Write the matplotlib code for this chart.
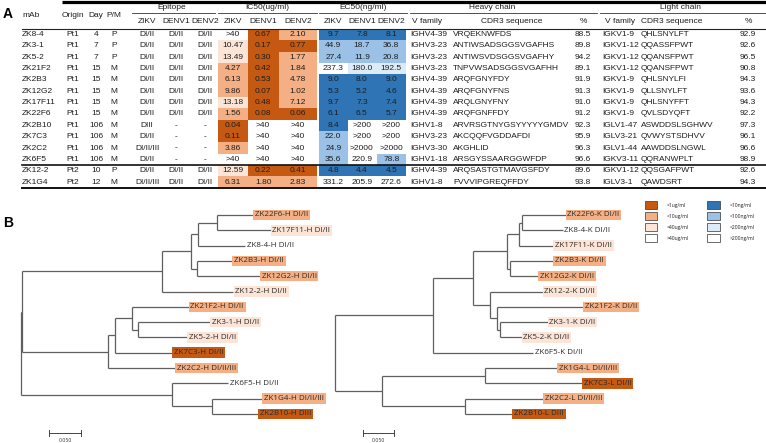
import matplotlib
matplotlib.use('Agg')
import matplotlib.pyplot as plt
from matplotlib.patches import Rectangle

# ---------------- data ----------------
mabs = ['ZK8-4', 'ZK3-1', 'ZK5-2', 'ZK21F2', 'ZK2B3', 'ZK12G2', 'ZK17F11', 'ZK22F6',
        'ZK2B10', 'ZK7C3', 'ZK2C2', 'ZK6F5', 'ZK12-2', 'ZK1G4']
origin = ['Pt1', 'Pt1', 'Pt1', 'Pt1', 'Pt1', 'Pt1', 'Pt1', 'Pt1', 'Pt1', 'Pt1', 'Pt1', 'Pt1', 'Pt2', 'Pt2']
day = [4, 7, 7, 15, 15, 15, 15, 15, 106, 106, 106, 106, 10, 12]
pm = ['P', 'P', 'P', 'M', 'M', 'M', 'M', 'M', 'M', 'M', 'M', 'M', 'P', 'M']
epi_zikv = ['DI/II'] * 8 + ['DIII', 'DI/II', 'DI/II/III', 'DI/II', 'DI/II', 'DI/II/III']
epi_denv1 = ['DI/II'] * 8 + ['-', '-', '-', '-', 'DI/II', 'DI/II']
epi_denv2 = ['DI/II'] * 8 + ['-', '-', '-', '-', 'DI/II', 'DI/II']
ic50_zikv = ['>40', '10.47', '13.49', '4.27', '6.13', '9.86', '13.18', '1.56', '0.04', '0.11', '3.86', '>40', '12.59', '6.31']
ic50_denv1 = ['0.67', '0.17', '0.30', '0.42', '0.53', '0.07', '0.48', '0.08', '>40', '>40', '>40', '>40', '0.22', '1.80']
ic50_denv2 = ['2.10', '0.77', '1.77', '1.84', '4.78', '1.02', '7.12', '0.06', '>40', '>40', '>40', '>40', '0.41', '2.83']
ec50_zikv = ['9.7', '44.9', '27.4', '237.3', '9.0', '5.3', '9.7', '6.1', '8.4', '22.0', '24.9', '35.6', '4.8', '331.2']
ec50_denv1 = ['7.8', '18.7', '11.9', '180.0', '8.0', '5.2', '7.3', '6.5', '>200', '>200', '>2000', '220.9', '4.4', '205.9']
ec50_denv2 = ['8.1', '36.8', '20.8', '192.5', '9.0', '4.6', '7.4', '5.7', '>200', '>200', '>2000', '78.8', '4.5', '272.6']
hv_family = ['IGHV4-39', 'IGHV3-23', 'IGHV3-23', 'IGHV3-23', 'IGHV4-39', 'IGHV4-39', 'IGHV4-39', 'IGHV4-39',
             'IGHV1-8', 'IGHV3-23', 'IGHV3-30', 'IGHV1-18', 'IGHV4-39', 'IGHV1-8']
hv_cdr3 = ['VRQEKNWFDS', 'ANTIWSADSGGSVGAFHS', 'ANTIWSVDSGGSVGAFHY', 'TNPVWSADSGGSVGAFHH', 'ARQFGNYFDY',
           'ARQFGNYFNS', 'ARQLGNYFNY', 'ARQFGNFFDY', 'ARVRSGTNYGSYYYYYGMDV', 'AKCQQFVGDDAFDI', 'AKGHLID',
           'ARSGYSSAARGGWFDP', 'ARQSASTGTMAVGSFDY', 'FVVVIPGREQFFDY']
hv_pct = [88.5, 89.8, 94.2, 89.1, 91.9, 91.3, 91.0, 91.2, 92.3, 95.9, 96.3, 96.6, 89.6, 93.8]
lv_family = ['IGKV1-9', 'IGKV1-12', 'IGKV1-12', 'IGKV1-12', 'IGKV1-9', 'IGKV1-9', 'IGKV1-9', 'IGKV1-9',
             'IGLV1-47', 'IGLV3-21', 'IGLV1-44', 'IGKV3-11', 'IGKV1-12', 'IGLV3-1']
lv_cdr3 = ['QHLSNYLFT', 'QQASSFPWT', 'QQANSFPWT', 'QQANSFPWT', 'QHLSNYLFI', 'QLLSNYLFT', 'QHLSNYFFT',
           'QVLSDYQFT', 'ASWDDSLSGHWV', 'QVWYSTSDHVV', 'AAWDDSLNGWL', 'QQRANWPLT', 'QQSGAFPWT', 'QAWDSRT']
lv_pct = [92.9, 92.6, 96.5, 90.8, 94.3, 93.6, 94.3, 92.2, 97.3, 96.1, 96.6, 98.9, 92.6, 94.3]

# phylogenetic trees (branch lengths in substitutions/site)
heavy_tree = ("((((((ZK22F6-H DI/II:0.056,ZK17F11-H DI/II:0.083):0.030,ZK8-4-H DI/II:0.073):0.011,"
              "(ZK2B3-H DI/II:0.055,ZK12G2-H DI/II:0.098):0.009):0.045,ZK12-2-H DI/II:0.111):0.219,"
              "(((ZK21F2-H DI/II:0.088,(ZK3-1-H DI/II:0.113,ZK5-2-H DI/II:0.077):0.009):0.027,"
              "ZK7C3-H DI/II:0.089):0.011,ZK2C2-H DI/II/III:0.105):0.134):0.002,"
              "(ZK6F5-H DI/II:0.088,(ZK1G4-H DI/II/III:0.078,ZK2B10-H DIII:0.072):0.063):0.236);")
light_tree = ("((((((ZK22F6-K DI/II:0.071,ZK8-4-K DI/II:0.066):0.005,ZK17F11-K DI/II:0.056):0.018,"
              "(ZK2B3-K DI/II:0.069,ZK12G2-K DI/II:0.045):0.005):0.055,(ZK12-2-K DI/II:0.085,"
              "(ZK21F2-K DI/II:0.139,(ZK3-1-K DI/II:0.077,ZK5-2-K DI/II:0.035):0.005):0.011):0.027):0.065,"
              "ZK6F5-K DI/II:0.161):0.158,((ZK1G4-L DI/II/III:0.116,ZK7C3-L DI/II:0.156):0.166,"
              "(ZK2C2-L DI/II/III:0.126,ZK2B10-L DIII:0.076):0.134):0.076);")
scale_len = 0.050

ic50_legend = ['<1ug/ml', '<10ug/ml', '<40ug/ml', '>40ug/ml']
ec50_legend = ['<10ng/ml', '<100ng/ml', '<200ng/ml', '>200ng/ml']

# ---------------- style ----------------
ORANGE = ['#C65911', '#F4B084', '#FCE4D6', '#FFFFFF']
BLUE = ['#2F75B5', '#9BC2E6', '#DDEBF7', '#FFFFFF']
TXT = '#1e1e1e'
TFONT = ['Liberation Sans', 'DejaVu Sans']
LFONT = ['Open Sans', 'DejaVu Sans']
FS = 6.0


def num(s):
    return float(s.lstrip('>')) * (10 if s.startswith('>') else 1)


def ic50_color(s):
    v = num(s)
    return ORANGE[0] if v < 1 else ORANGE[1] if v < 10 else ORANGE[2] if v < 40 else ORANGE[3]


def ec50_color(s):
    v = num(s)
    return BLUE[0] if v < 10 else BLUE[1] if v < 100 else BLUE[2] if v < 200 else BLUE[3]


W, H = 766, 443
fig = plt.figure(figsize=(W / 100, H / 100), dpi=100)
ax = fig.add_axes([0, 0, 1, 1])
ax.set_xlim(0, W)
ax.set_ylim(H, 0)
ax.axis('off')

# ---------------- table (panel A) ----------------
ROW0, DY = 34.5, 11.35
rows_y = [ROW0 + DY * i for i in range(len(mabs))]


def t(x, y, s, ha='center', **kw):
    ax.text(x, y, s, ha=ha, va='center', fontsize=kw.pop('fs', FS), family=TFONT, color=TXT, **kw)


ax.text(3, 14, 'A', fontsize=10, fontweight='bold', family=TFONT, va='center', ha='left')
ax.text(3, 223, 'B', fontsize=10, fontweight='bold', family=TFONT, va='center', ha='left')

# header lines
ax.plot([62, 766], [1.5, 1.5], color='black', lw=2.3, solid_capstyle='butt')
hdr_line = ROW0 - DY / 2
ax.plot([22, 766], [hdr_line, hdr_line], color='#222', lw=0.8)
sep = ROW0 + DY * 11.5
ax.plot([22, 766], [sep, sep], color='#111', lw=1.2)
bot = ROW0 + DY * 13.5
ax.plot([22, 766], [bot, bot], color='#111', lw=1.4)

groups = [('Epitope', 172, 132, 215), ('IC50(ug/ml)', 267, 218, 317), ('EC50(ng/ml)', 363, 319, 407),
          ('Heavy chain', 492, 410, 597), ('Light chain', 680, 600, 766)]
for name, cx, x0, x1 in groups:
    t(cx, 7.5, name)
    ax.plot([x0, x1], [13, 13], color='#333', lw=0.6)

HV_X, HC_X, HP_X = 410, 453, 583
LV_X, LC_X, LP_X = 602, 641, 748

t(22, 15, 'mAb', ha='left')
t(73, 15, 'Origin')
t(96, 15, 'Day')
t(114, 15, 'P/M')
sub_y = 21
for cx, lab in [(147, 'ZIKV'), (176, 'DENV1'), (205, 'DENV2'),
                (233, 'ZIKV'), (263, 'DENV1'), (298, 'DENV2'),
                (333, 'ZIKV'), (362, 'DENV1'), (391, 'DENV2')]:
    t(cx, sub_y, lab)
t(HV_X + 2, sub_y, 'V family', ha='left')
t(512, sub_y, 'CDR3 sequence')
t(HP_X, sub_y, '%')
t(LV_X + 3, sub_y, 'V family', ha='left')
t(672, sub_y, 'CDR3 sequence')
t(LP_X, sub_y, '%')

ic_cols = [(218, 247.5, ic50_zikv), (247.5, 279, ic50_denv1), (279, 317, ic50_denv2)]
ec_cols = [(319, 347.5, ec50_zikv), (347.5, 376.5, ec50_denv1), (376.5, 406, ec50_denv2)]

for i, y in enumerate(rows_y):
    t(22, y, mabs[i], ha='left')
    t(73, y, origin[i])
    t(96, y, str(day[i]))
    t(114, y, pm[i])
    t(147, y, epi_zikv[i])
    t(176, y, epi_denv1[i])
    t(205, y, epi_denv2[i])
    for x0, x1, vals in ic_cols:
        ax.add_patch(Rectangle((x0, y - DY / 2), x1 - x0, DY, facecolor=ic50_color(vals[i]), edgecolor='none', zorder=0))
        t((x0 + x1) / 2, y, vals[i])
    for x0, x1, vals in ec_cols:
        ax.add_patch(Rectangle((x0, y - DY / 2), x1 - x0, DY, facecolor=ec50_color(vals[i]), edgecolor='none', zorder=0))
        t((x0 + x1) / 2, y, vals[i])
    t(HV_X, y, hv_family[i], ha='left')
    t(HC_X, y, hv_cdr3[i], ha='left')
    t(HP_X, y, '%.1f' % hv_pct[i])
    t(LV_X, y, lv_family[i], ha='left')
    t(LC_X, y, lv_cdr3[i], ha='left')
    t(LP_X, y, '%.1f' % lv_pct[i])

# legend
leg_y = [205, 216, 227, 238]
for j in range(4):
    ax.add_patch(Rectangle((645, leg_y[j] - 3.8), 12, 7.6, facecolor=ORANGE[j], edgecolor='#333', lw=0.5))
    ax.text(667, leg_y[j], ic50_legend[j], fontsize=3.6, family=LFONT, color=TXT, va='center', ha='left')
    ax.add_patch(Rectangle((707, leg_y[j] - 3.8), 13, 7.6, facecolor=BLUE[j], edgecolor='#333', lw=0.5))
    ax.text(730, leg_y[j], ec50_legend[j], fontsize=3.6, family=LFONT, color=TXT, va='center', ha='left')


# ---------------- trees (panel B) ----------------
def parse_newick(s):
    s = s.strip().rstrip(';')
    pos = 0

    def node():
        nonlocal pos
        children = []
        if s[pos] == '(':
            pos += 1
            while True:
                children.append(node())
                if s[pos] == ',':
                    pos += 1
                    continue
                if s[pos] == ')':
                    pos += 1
                    break
        st = pos
        while pos < len(s) and s[pos] not in ',():':
            pos += 1
        name = s[st:pos]
        length = 0.0
        if pos < len(s) and s[pos] == ':':
            pos += 1
            st = pos
            while pos < len(s) and s[pos] not in ',()':
                pos += 1
            length = float(s[st:pos])
        return {'name': name, 'len': length, 'children': children}

    return node()


ic50_of = dict(zip(mabs, ic50_zikv))
LEAF0, LEAFDY = 215, 15.3
TOP = 195


def draw_tree(newick, root_px, px_per_unit, right_px, bar_px):
    tree = parse_newick(newick)
    leaves = []

    def rec(n, x):
        n['x'] = x + n['len']
        if n['children']:
            ys = [rec(c, n['x']) for c in n['children']]
            n['y'] = (ys[0] + ys[-1]) / 2
        else:
            n['y'] = len(leaves)
            leaves.append(n)
        return n['y']

    rec(tree, 0.0)
    wpx = right_px - root_px
    tax = fig.add_axes([root_px / W, 0, wpx / W, (H - TOP) / H])
    tax.set_xlim(0, wpx / px_per_unit)
    tax.set_ylim((H - LEAF0) / LEAFDY, (TOP - LEAF0) / LEAFDY)
    tax.axis('off')
    lc = '#5f5f5f'

    def drw(n):
        if n['children']:
            cs = n['children']
            tax.plot([n['x'], n['x']], [cs[0]['y'], cs[-1]['y']], color=lc, lw=0.9, clip_on=False,
                     solid_capstyle='butt')
            for c in cs:
                tax.plot([n['x'], c['x']], [c['y'], c['y']], color=lc, lw=0.9, clip_on=False,
                         solid_capstyle='butt')
                drw(c)

    drw(tree)
    pad = 1.8 / px_per_unit
    for lf in leaves:
        mab = lf['name'].split(' ')[0].rsplit('-', 1)[0]
        col = ic50_color(ic50_of[mab])
        kw = {}
        if col != '#FFFFFF':
            kw['bbox'] = dict(boxstyle='square,pad=0.22', facecolor=col, edgecolor='none')
        tax.text(lf['x'] + pad, lf['y'], lf['name'], fontsize=5.8, family=LFONT, color='#2a2a2a',
                 va='center', ha='left', clip_on=False, **kw)
    # scale bar
    b0 = (bar_px - root_px) / px_per_unit
    yb = (433 - LEAF0) / LEAFDY
    cap = 0.18
    tax.plot([b0, b0 + scale_len], [yb, yb], color='#444', lw=0.7, clip_on=False)
    for xx in (b0, b0 + scale_len):
        tax.plot([xx, xx], [yb - cap, yb + cap], color='#444', lw=0.7, clip_on=False)
    tax.text(b0 + scale_len / 2, (440 - LEAF0) / LEAFDY, '%.3f' % scale_len, fontsize=3.7,
             family=LFONT, color='#333', ha='center', va='center', clip_on=False)


draw_tree(heavy_tree, 21, 640, 330, 49)
draw_tree(light_tree, 335, 620, 640, 363)

fig.savefig('out.png', dpi=100)
